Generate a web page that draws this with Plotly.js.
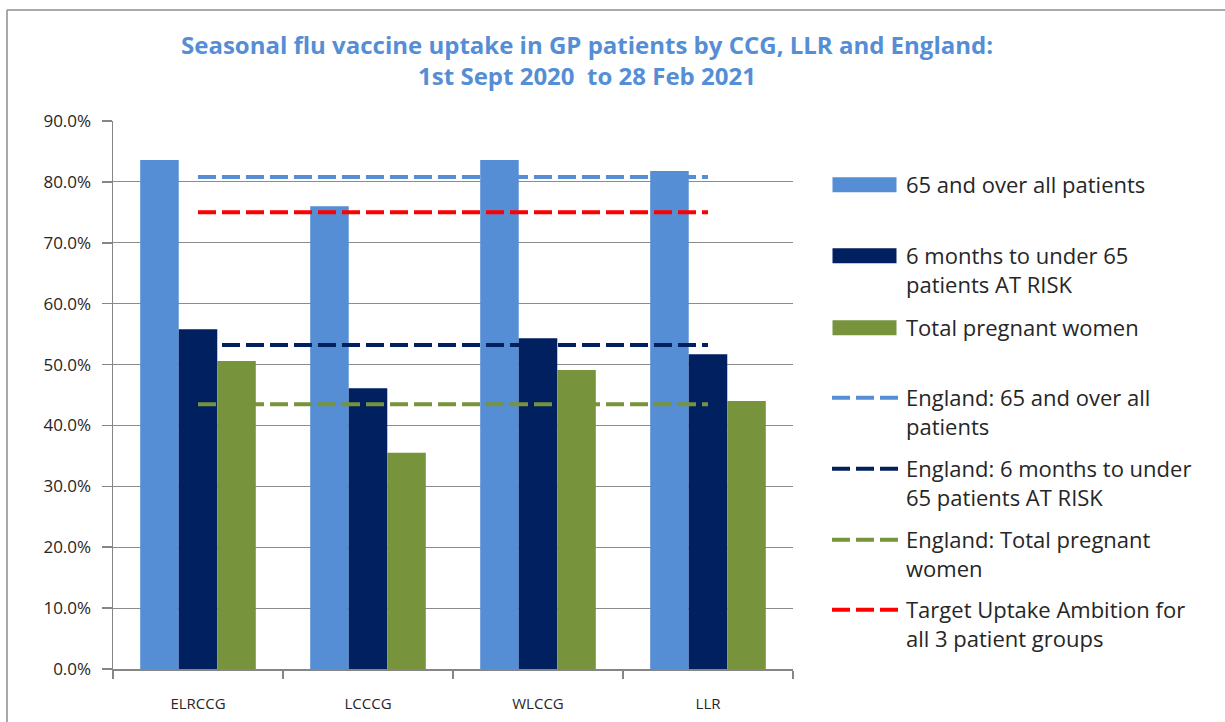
<!DOCTYPE html>
<html>
<head>
<meta charset="utf-8">
<script src="https://cdn.plot.ly/plotly-3.0.1.min.js"></script>
<style>html,body{margin:0;padding:0;background:#fff;}#chart{width:1225px;height:722px;}</style>
</head>
<body>
<div id="chart"></div>
<script>
// ---- data ----
const categories = ["ELRCCG", "LCCCG", "WLCCG", "LLR"];
const over65 = [0.836, 0.760, 0.836, 0.818];
const atRisk = [0.558, 0.461, 0.543, 0.517];
const pregnant = [0.506, 0.355, 0.491, 0.440];
const england65 = [0.808, 0.808, 0.808, 0.808];
const englandAtRisk = [0.532, 0.532, 0.532, 0.532];
const englandPregnant = [0.435, 0.435, 0.435, 0.435];
const target = [0.75, 0.75, 0.75, 0.75];
const yTickVals = [0, 0.1, 0.2, 0.3, 0.4, 0.5, 0.6, 0.7, 0.8, 0.9];

const names = [
  "65 and over all patients",
  "6 months to under 65<br>patients AT RISK",
  "Total pregnant women",
  "England: 65 and over all<br>patients",
  "England: 6 months to under<br>65 patients AT RISK",
  "England: Total pregnant<br>women",
  "Target Uptake Ambition for<br>all 3 patient groups"
];

const cLight = "#558ED5", cNavy = "#002060", cGreen = "#77933C", cRed = "#FF0000";
const FONT = "'Open Sans', Lato, sans-serif";

const legendIds = ["legend8", "legend2", "legend3", "legend4", "legend5", "legend6", "legend7"];
const dash = {width: 4, dash: "18px,6px"};

const traces = [
  {type: "bar", x: categories, y: over65, name: names[0], marker: {color: cLight}, legend: legendIds[0], showlegend: true},
  {type: "bar", x: categories, y: atRisk, name: names[1], marker: {color: cNavy}, legend: legendIds[1], showlegend: true},
  {type: "bar", x: categories, y: pregnant, name: names[2], marker: {color: cGreen}, legend: legendIds[2], showlegend: true},
  {type: "scatter", mode: "lines", x: categories, y: england65, name: names[3], line: Object.assign({color: cLight}, dash), legend: legendIds[3], showlegend: true},
  {type: "scatter", mode: "lines", x: categories, y: englandAtRisk, name: names[4], line: Object.assign({color: cNavy}, dash), legend: legendIds[4], showlegend: true},
  {type: "scatter", mode: "lines", x: categories, y: englandPregnant, name: names[5], line: Object.assign({color: cGreen}, dash), legend: legendIds[5], showlegend: true},
  {type: "scatter", mode: "lines", x: categories, y: target, name: names[6], line: Object.assign({color: cRed}, dash), legend: legendIds[6], showlegend: true}
];

// plot area geometry (px) used to convert legend positions to paper coords
const L = 113, R = 793, T = 121, B = 669;
const px2x = p => (p - L) / (R - L);
const px2y = p => (B - p) / (B - T);
const firstLineCenters = [184, 255, 327, 397, 468, 539, 609];

const layout = {
  width: 1225, height: 722,
  margin: {l: L, r: 1225 - R, t: T, b: 722 - B, pad: 0},
  paper_bgcolor: "#fff", plot_bgcolor: "#fff",
  showlegend: true,
  font: {family: FONT, color: "#262626", size: 16},
  title: {
    text: "Seasonal flu vaccine uptake in GP patients by CCG, LLR and England:<br>1st Sept 2020  to 28 Feb 2021",
    font: {family: FONT, size: 24, color: cLight, weight: "bold"},
    x: px2x(587), xref: "paper", xanchor: "center",
    y: 1 - 54 / 722, yref: "container", yanchor: "top"
  },
  barmode: "group", bargap: 0.32, bargroupgap: 0,
  xaxis: {
    type: "category", tickson: "boundaries", ticks: "outside", ticklen: 8, tickcolor: "#868686", tickwidth: 1.5,
    showline: true, linecolor: "#868686", linewidth: 1.5, showgrid: false,
    tickfont: {family: FONT, size: 15, color: "#262626"}, ticklabelstandoff: 20
  },
  yaxis: {
    range: [0, 0.9], tickvals: yTickVals, tickformat: ".1%", ticks: "outside", ticklen: 10, tickcolor: "#868686", tickwidth: 1.5,
    showline: true, linecolor: "#868686", linewidth: 1.5, showgrid: true, gridcolor: "#8C8C8C", gridwidth: 1.2,
    zeroline: false, tickfont: {family: FONT, size: 17, color: "#262626"}, ticklabelstandoff: 7
  },
  shapes: [
    {type: "line", xref: "paper", yref: "paper", x0: px2x(7), x1: px2x(7), y0: px2y(725), y1: px2y(10), line: {color: "#8C8C8C", width: 1.5}},
    {type: "line", xref: "paper", yref: "paper", x0: px2x(7), x1: px2x(1230), y0: px2y(10), y1: px2y(10), line: {color: "#8C8C8C", width: 1.5}}
  ]
};

legendIds.forEach((id, i) => {
  layout[id] = {
    visible: true,
    x: px2x(827), xanchor: "left",
    y: px2y(firstLineCenters[i] - 20), yanchor: "top",
    xref: "paper", yref: "paper",
    bgcolor: "rgba(0,0,0,0)", borderwidth: 0,
    font: {family: FONT, size: 22, color: "#262626"},
    valign: "top", itemwidth: 69, itemclick: false, itemdoubleclick: false
  };
});

Plotly.newPlot("chart", traces, layout, {displayModeBar: false, staticPlot: true}).then(gd => {
  // widen the bar-series legend keys into the long rectangles of the original legend
  ["legend8", "legend2", "legend3"].forEach(id => {
    gd.querySelectorAll("g." + id + " .legendpoints path").forEach(p => {
      p.setAttribute("d", "M-34,7.5H30V-7.5H-34Z");
    });
  });
});
</script>
</body>
</html>
